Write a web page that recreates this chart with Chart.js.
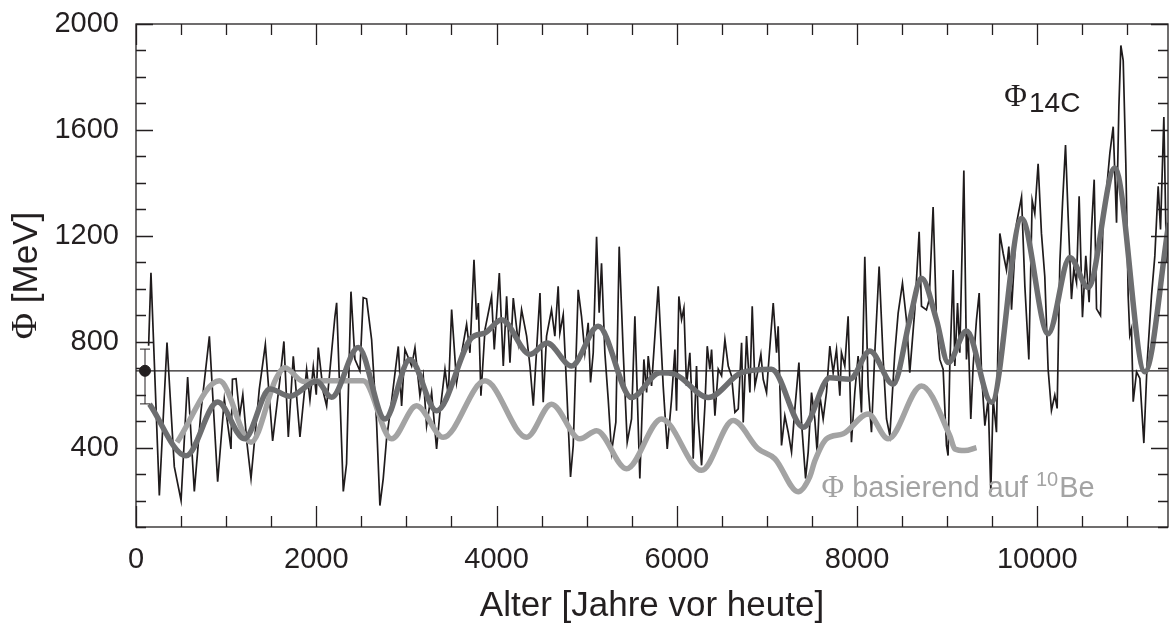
<!DOCTYPE html>
<html>
<head>
<meta charset="utf-8">
<script src="https://cdn.jsdelivr.net/npm/chart.js@4/dist/chart.umd.min.js"></script>
<style>
  html, body { margin: 0; padding: 0; background: #fff; }
  #wrap { width: 1169px; height: 624px; }
</style>
</head>
<body>
<div id="wrap"><canvas id="chart" width="1169" height="624"></canvas></div>
<script>
// Phi from 14C, yearly-ish record (years before present, MeV)
const c14Years = [
  140,166,259,344,425,500,573,647,720,814,
  906,980,1054,1070,1110,1150,1185,1230,1276,1368,
  1435,1516,1597,1641,1690,1745,1819,1893,1930,1967,
  2000,2022,2078,2115,2170,2207,2226,2300,2336,2385,
  2429,2484,2521,2558,2614,2669,2706,2743,2780,2830,
  2910,2947,2984,3058,3095,3150,3187,3224,3280,3335,
  3372,3428,3465,3502,3557,3613,3668,3705,3750,3779,
  3798,3827,3872,3945,3975,4031,4075,4112,4149,4186,
  4241,4278,4334,4371,4408,4445,4482,4518,4555,4610,
  4647,4684,4703,4740,4777,4821,4851,4906,4943,4980,
  5017,5043,5073,5110,5139,5165,5202,5239,5276,5324,
  5361,5406,5450,5498,5535,5590,5635,5665,5683,5720,
  5794,5849,5894,5942,5979,5997,6023,6053,6079,6108,
  6145,6164,6182,6219,6238,6275,6312,6338,6367,6386,
  6423,6460,6497,6534,6571,6608,6645,6682,6719,6737,
  6774,6811,6837,6867,6904,6933,6959,6996,7014,7070,
  7107,7125,7162,7199,7236,7273,7310,7355,7384,7429,
  7458,7495,7531,7557,7587,7624,7661,7698,7735,7772,
  7809,7827,7864,7901,7938,7975,8012,8049,8086,8123,
  8160,8197,8245,8290,8327,8364,8419,8456,8504,8548,
  8585,8641,8689,8715,8770,8800,8844,8881,8918,8955,
  8992,9010,9029,9066,9085,9115,9140,9185,9214,9233,
  9262,9288,9325,9355,9381,9418,9455,9484,9510,9547,
  9584,9621,9658,9684,9714,9769,9825,9862,9906,9943,
  9972,10009,10046,10083,10120,10157,10194,10220,10250,10280,
  10313,10342,10379,10405,10435,10464,10501,10538,10575,10601,
  10631,10657,10701,10731,10768,10805,10842,10879,10905,10927,
  10953,10982,11008,11026,11045,11064,11101,11138,11182,11219,
  11267,11304,11341,11367,11404,11433,11459
];
const c14Phi = [
  785,1060,219,797,328,200,666,234,534,820,
  271,583,395,658,660,520,600,420,283,621,
  790,425,658,801,440,745,440,695,580,705,
  600,778,610,557,760,895,947,234,339,989,
  733,690,966,962,808,497,181,283,433,560,
  782,557,771,708,777,596,671,483,608,395,
  533,696,596,921,646,758,865,758,1109,883,
  946,596,846,971,771,1059,708,971,721,965,
  796,921,821,708,558,771,984,571,821,921,
  821,1009,833,902,633,289,408,996,896,758,
  871,646,758,1196,909,1096,758,583,383,496,
  1159,758,420,508,896,283,733,608,746,633,
  1009,633,395,583,770,539,971,884,927,633,
  758,608,358,708,508,333,558,783,695,770,
  520,696,671,808,708,670,533,546,796,495,
  821,608,934,633,696,752,658,608,696,946,
  758,858,408,520,458,383,546,721,495,283,
  383,608,508,383,596,508,609,783,683,771,
  596,759,708,896,420,608,746,533,1121,633,
  458,758,1084,733,508,445,758,908,1021,883,
  683,921,1215,934,920,958,1309,883,733,696,
  408,370,708,1071,708,946,758,1447,733,833,
  508,708,883,984,683,483,583,233,583,458,
  1209,1134,1071,1159,921,1246,1347,1009,733,1334,
  1284,1472,1209,1046,696,540,598,548,1099,1324,
  1543,1274,961,1074,1024,1349,892,1124,949,1224,
  1412,924,899,1274,1374,1512,1612,1249,1687,1919,
  1862,1474,974,824,849,573,686,661,417,723,
  974,1124,1387,1224,1649,1099,1224
];

// smoothed 14C curve
const c14SmoothYears = [
  150,555,906,1202,1486,1708,2004,2170,2466,2762,
  3039,3335,3724,3872,4056,4371,4560,4832,5128,5498,
  5812,5979,6349,6719,7051,7403,7698,7920,8142,8401,
  8585,8715,8881,9011,9214,9492,9825,10120,10361,10564,
  10860,11193,11459
];
const c14SmoothPhi = [
  564,369,572,433,621,594,651,590,778,508,
  733,539,815,833,883,752,795,708,858,589,
  683,677,589,683,696,477,664,658,765,639,
  883,1040,883,721,840,571,1265,830,1118,1005,
  1456,686,1249
];

// Phi based on 10Be
const be10Years = [
  455,925,1276,1553,1652,1856,2100,2521,2836,3113,
  3409,3872,4334,4610,4925,5110,5442,5831,6275,6626,
  6904,7088,7347,7476,7532,7661,7846,8123,8345,8715,
  9029,9085,9195,9325
];
const be10Phi = [
  420,652,420,660,702,650,652,652,433,558,
  439,652,439,564,433,464,320,508,314,502,
  395,358,233,290,350,433,452,527,433,633,
  445,395,389,400
];

// present-day value with error bar, and its reference level
const todayYear = [100];
const todayPhi = [690];
const todayErr = [565, 772];
const refLevel = 690;

const xTicks = { min: 0, max: 11450, step: 500, label: 2000 };
const yTicks = { min: 100, max: 2000, step: 100, label: 400 };

const SANS = '"Liberation Sans", Arial, Helvetica, sans-serif';
const SERIF = '"Liberation Serif", "Times New Roman", serif';
const INK = '#231f20';

const toPts = (xs, ys) => xs.map((x, i) => ({ x, y: ys[i] }));

function stepTicks(opts) {
  const out = [];
  for (let v = Math.ceil(opts.min / opts.step) * opts.step; v <= opts.max; v += opts.step) {
    out.push({ value: v });
  }
  return out;
}

const frameAndText = {
  id: 'frameAndText',
  afterDatasetsDraw(chart) {
    const { ctx, chartArea: a, scales: { x, y } } = chart;
    ctx.save();
    ctx.strokeStyle = INK;
    ctx.lineWidth = 1.3;
    ctx.strokeRect(a.left, a.top, a.right - a.left, a.bottom - a.top);
    ctx.beginPath();
    x.ticks.forEach(t => {
      const px = Math.round(x.getPixelForValue(t.value)) + 0.5;
      const len = t.value % xTicks.label === 0 ? 21 : 11;
      ctx.moveTo(px, a.bottom); ctx.lineTo(px, a.bottom - len);
      ctx.moveTo(px, a.top); ctx.lineTo(px, a.top + len);
    });
    y.ticks.forEach(t => {
      const py = Math.round(y.getPixelForValue(t.value)) + 0.5;
      const len = t.value % yTicks.label === 0 ? 17 : 10;
      ctx.moveTo(a.left, py); ctx.lineTo(a.left + len, py);
      ctx.moveTo(a.right, py); ctx.lineTo(a.right - len, py);
    });
    ctx.stroke();
    ctx.restore();
  },
  afterDraw(chart) {
    const { ctx, chartArea: a, scales: { x, y } } = chart;
    ctx.save();
    ctx.textBaseline = 'alphabetic';
    ctx.textAlign = 'left';

    // Phi_14C label
    ctx.fillStyle = INK;
    let px = x.getPixelForValue(9634);
    ctx.font = '31px ' + SERIF;
    ctx.fillText('Φ', px, y.getPixelForValue(1690));
    px += ctx.measureText('Φ').width + 2;
    ctx.font = '28px ' + SANS;
    ctx.fillText('14C', px, y.getPixelForValue(1668));

    // Phi based on 10Be label
    ctx.fillStyle = '#a3a3a3';
    px = x.getPixelForValue(7605);
    const base = y.getPixelForValue(213);
    ctx.font = '31px ' + SERIF;
    ctx.fillText('Φ', px, base);
    px += ctx.measureText('Φ').width;
    ctx.font = '29px ' + SANS;
    ctx.fillText(' basierend auf ', px, base);
    px += ctx.measureText(' basierend auf ').width;
    ctx.font = '20px ' + SANS;
    ctx.fillText('10', px, base - 11);
    px += ctx.measureText('10').width + 1;
    ctx.font = '29px ' + SANS;
    ctx.fillText('Be', px, base);

    // axis titles
    ctx.fillStyle = INK;
    ctx.font = '35px ' + SANS;
    ctx.textAlign = 'center';
    ctx.textBaseline = 'middle';
    ctx.fillText('Alter [Jahre vor heute]', (a.left + a.right) / 2, 606);

    ctx.translate(27, (a.top + a.bottom) / 2);
    ctx.rotate(-Math.PI / 2);
    ctx.textAlign = 'left';
    ctx.font = '36px ' + SERIF;
    const wPhi = ctx.measureText('Φ').width;
    ctx.font = '35px ' + SANS;
    const wRest = ctx.measureText(' [MeV]').width;
    const tx = -(wPhi + wRest) / 2;
    ctx.font = '36px ' + SERIF;
    ctx.fillText('Φ', tx, 0);
    ctx.font = '35px ' + SANS;
    ctx.fillText(' [MeV]', tx + wPhi, 0);
    ctx.restore();
  }
};

new Chart(document.getElementById('chart'), {
  type: 'line',
  data: {
    datasets: [
      {
        data: toPts(c14SmoothYears, c14SmoothPhi),
        borderColor: '#6d6e70', borderWidth: 5.5,
        cubicInterpolationMode: 'monotone', pointRadius: 0, order: 1
      },
      {
        data: toPts(be10Years, be10Phi),
        borderColor: '#a3a3a3', borderWidth: 5.5,
        cubicInterpolationMode: 'monotone', pointRadius: 0, order: 2
      },
      {
        data: toPts(c14Years, c14Phi),
        borderColor: '#1f1b1c', borderWidth: 1.7,
        tension: 0, pointRadius: 0, order: 3
      },
      {
        data: [{ x: xTicks.min, y: refLevel }, { x: xTicks.max, y: refLevel }],
        borderColor: INK, borderWidth: 1.2, pointRadius: 0, order: 4
      },
      {
        data: [{ x: todayYear[0], y: todayErr[0] }, { x: todayYear[0], y: todayErr[1] }],
        borderColor: INK, borderWidth: 1, pointStyle: 'line',
        pointRadius: 5, pointBorderWidth: 1, pointBorderColor: INK, order: 0
      },
      {
        data: toPts(todayYear, todayPhi),
        showLine: false, pointRadius: 5.5, pointBackgroundColor: INK,
        pointBorderColor: INK, order: 0
      }
    ]
  },
  options: {
    responsive: false,
    animation: false,
    devicePixelRatio: 1,
    layout: { autoPadding: false, padding: { top: 24, right: 1, left: 0, bottom: 0 } },
    plugins: { legend: { display: false }, tooltip: { enabled: false } },
    scales: {
      x: {
        type: 'linear',
        min: xTicks.min, max: xTicks.max,
        afterBuildTicks: s => { s.ticks = stepTicks(xTicks); },
        afterFit: s => { s.height = 97; s.paddingRight = 0; s.paddingLeft = 0; },
        grid: { display: false, drawTicks: false },
        border: { display: false },
        ticks: {
          autoSkip: false, maxRotation: 0, padding: 16, color: INK,
          font: { family: SANS, size: 29 },
          callback: v => (v % xTicks.label === 0 ? String(v) : '')
        }
      },
      y: {
        min: yTicks.min, max: yTicks.max,
        afterBuildTicks: s => { s.ticks = stepTicks(yTicks); },
        afterFit: s => { s.width = 136; s.paddingTop = 0; s.paddingBottom = 0; },
        grid: { display: false, drawTicks: false },
        border: { display: false },
        ticks: {
          autoSkip: false, padding: 17, color: INK,
          font: { family: SANS, size: 29 },
          callback: v => (v % yTicks.label === 0 ? String(v) : '')
        }
      }
    }
  },
  plugins: [frameAndText]
});
</script>
</body>
</html>
